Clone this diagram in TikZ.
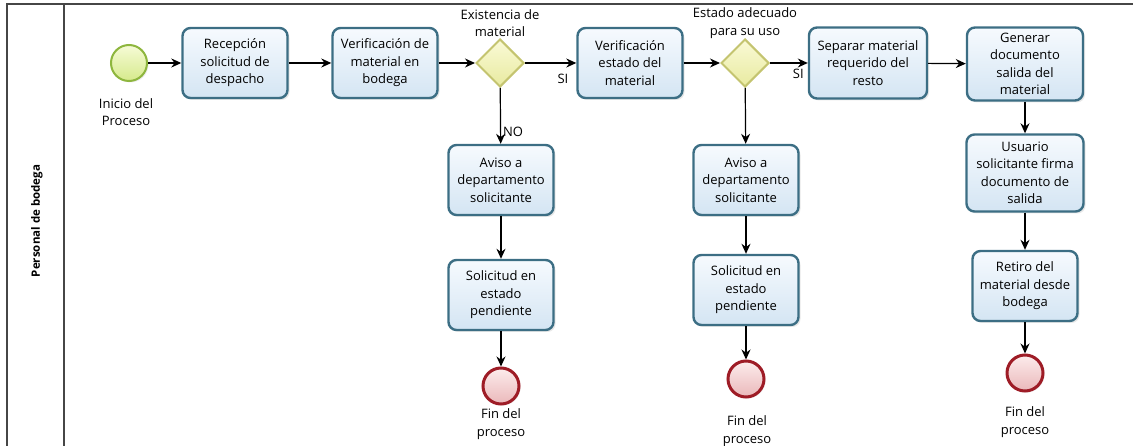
\documentclass[tikz,border=0pt]{standalone}
\usepackage{fontspec}
\setmainfont{Open Sans}
\usetikzlibrary{shapes.geometric,arrows.meta,shadows}

\definecolor{taskline}{RGB}{60,110,132}
\definecolor{tasktop}{RGB}{246,250,254}
\definecolor{taskbot}{RGB}{212,229,243}
\definecolor{startline}{RGB}{142,182,62}
\definecolor{starttop}{RGB}{246,251,214}
\definecolor{startbot}{RGB}{214,234,140}
\definecolor{endline}{RGB}{158,28,38}
\definecolor{endtop}{RGB}{252,236,236}
\definecolor{endbot}{RGB}{234,184,186}
\definecolor{gateline}{RGB}{196,196,112}
\definecolor{gatetop}{RGB}{250,250,214}
\definecolor{gatebot}{RGB}{232,234,160}
\definecolor{frameline}{RGB}{70,70,70}

\tikzset{
  x=1pt, y=-1pt,
  every node/.style={font=\fontsize{13}{17.5}\selectfont, align=center},
  task/.style={rectangle, rounded corners=8pt, draw=taskline, line width=2.4pt,
    top color=tasktop, bottom color=taskbot, inner sep=2pt,
    minimum width=105pt, minimum height=70pt,
    drop shadow={shadow xshift=2pt, shadow yshift=-2pt, opacity=0.18}},
  startev/.style={circle, draw=startline, line width=2pt, minimum size=36pt,
    inner sep=0pt, top color=starttop, bottom color=startbot,
    drop shadow={shadow xshift=1.5pt, shadow yshift=-1.5pt, opacity=0.15}},
  endev/.style={circle, draw=endline, line width=3pt, minimum size=36pt,
    inner sep=0pt, top color=endtop, bottom color=endbot,
    drop shadow={shadow xshift=1.5pt, shadow yshift=-1.5pt, opacity=0.15}},
  gate/.style={diamond, draw=gateline, line width=2pt, minimum width=48pt,
    minimum height=48pt, inner sep=0pt, aspect=1,
    top color=gatetop, bottom color=gatebot},
  flow/.style={draw=black, line width=1.2pt,
    -{Stealth[length=10pt,width=9pt]}},
  caption/.style={inner sep=0pt},
}

\begin{document}
\begin{tikzpicture}
\useasboundingbox (0,0) rectangle (1133,446);

% pool frame and lane header
\draw[frameline, line width=1.3pt] (7,446) -- (7,4) -- (1133,4);
\draw[frameline, line width=1.3pt] (64,4) -- (64,446);
\node[rotate=90, font=\fontsize{11.5}{13}\selectfont\bfseries] (lane) at (37,221) {Personal de bodega};

% main row
\node[startev] (start) at (129,63) {};
\node[caption] (startlbl) at (126,112) {Inicio del\\Proceso};
\node[task] (recep) at (235,63) {Recepción\\solicitud de\\despacho};
\node[task] (verif) at (385,63) {Verificación de\\material en\\bodega};
\node[gate] (g1) at (500,63) {};
\node[caption] (g1lbl) at (500,23) {Existencia de\\material};
\node[task] (estado) at (630,63) {Verificación\\estado del\\material};
\node[gate] (g2) at (745,63) {};
\node[caption] (g2lbl) at (745,23) {Estado adecuado\\para su uso};
\node[task, minimum width=118pt, minimum height=71pt] (separar) at (868,63) {Separar material\\requerido del\\resto};
\node[task, minimum width=116pt, minimum height=73pt] (generar) at (1025,64) {Generar\\documento\\salida del\\material};

% branch: material missing
\node[task] (aviso1) at (501,180) {Aviso a\\departamento\\solicitante};
\node[task] (sol1) at (501,295) {Solicitud en\\estado\\pendiente};
\node[endev] (end1) at (501,386) {};
\node[caption] (end1lbl) at (501,424) {Fin del\\proceso};

% branch: material not usable
\node[task] (aviso2) at (746,180) {Aviso a\\departamento\\solicitante};
\node[task] (sol2) at (746,290) {Solicitud en\\estado\\pendiente};
\node[endev] (end2) at (746,379) {};
\node[caption] (end2lbl) at (747,431) {Fin del\\proceso};

% branch: dispatch
\node[task, minimum width=117pt, minimum height=77pt] (firma) at (1025,173) {Usuario\\solicitante firma\\documento de\\salida};
\node[task] (retiro) at (1025,286) {Retiro del\\material desde\\bodega};
\node[endev] (end3) at (1025,373) {};
\node[caption] (end3lbl) at (1025,422) {Fin del\\proceso};

% sequence flows
\draw[flow] (start) -- (recep);
\draw[flow] (recep) -- (verif);
\draw[flow] (verif) -- (g1);
\draw[flow] (g1) -- node[pos=0.74, below=10pt, caption] (si1) {SI} (estado);
\draw[flow] (estado) -- (g2);
\draw[flow] (g2) -- node[pos=0.75, below=5pt, caption] (si2) {SI} (separar);
\draw[flow] (separar) -- (generar);
\draw[flow] (g1) -- node[pos=0.78, right=2pt, caption] (no1) {NO} (aviso1);
\draw[flow] (aviso1) -- (sol1);
\draw[flow] (sol1) -- (end1);
\draw[flow] (g2) -- (aviso2);
\draw[flow] (aviso2) -- (sol2);
\draw[flow] (sol2) -- (end2);
\draw[flow] (generar) -- (firma);
\draw[flow] (firma) -- (retiro);
\draw[flow] (retiro) -- (end3);
\end{tikzpicture}
\end{document}
